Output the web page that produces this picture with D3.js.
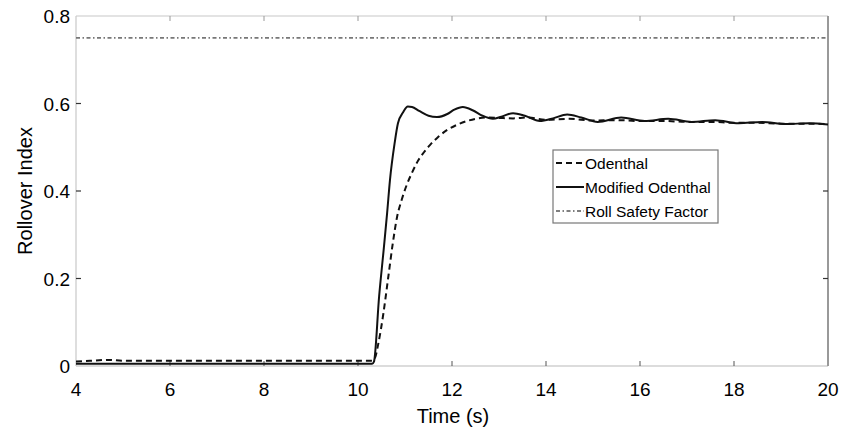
<!DOCTYPE html>
<html><head><meta charset="utf-8">
<script src="https://cdn.jsdelivr.net/npm/d3@7"></script>
<style>body{margin:0;background:#fff;} text{font-family:"Liberation Sans",Arial,sans-serif;}</style>
</head><body>
<svg id="c" width="842" height="432"></svg>
<script>
const xTicks = [4, 6, 8, 10, 12, 14, 16, 18, 20];
const yTicks = [0, 0.2, 0.4, 0.6, 0.8];
const yTickLabels = ["0", "0.2", "0.4", "0.6", "0.8"];

const odenthalT = [4, 4.3, 4.7, 5, 6, 7, 8, 9, 10, 10.3, 10.36, 10.43, 10.54, 10.64, 10.74, 10.83, 10.93, 11.03, 11.15, 11.26, 11.4, 11.53, 11.7, 11.89, 12.1, 12.32, 12.5, 12.74, 13.0, 13.3, 13.6, 14, 14.5, 15, 15.5, 16, 16.5, 17, 17.5, 18, 18.5, 19, 19.5, 20];
const odenthalV = [0.010, 0.012, 0.014, 0.012, 0.012, 0.012, 0.012, 0.012, 0.012, 0.012, 0.018, 0.05, 0.12, 0.20, 0.28, 0.34, 0.38, 0.412, 0.442, 0.466, 0.488, 0.505, 0.523, 0.539, 0.551, 0.560, 0.565, 0.568, 0.567, 0.566, 0.568, 0.563, 0.565, 0.561, 0.562, 0.560, 0.560, 0.558, 0.558, 0.556, 0.556, 0.554, 0.554, 0.553];

const modifiedT = [4, 10.3, 10.34, 10.45, 10.55, 10.62, 10.68, 10.78, 10.85, 10.96, 11.06, 11.15, 11.3, 11.5, 11.68, 11.9, 12.05, 12.23, 12.45, 12.65, 12.87, 13.05, 13.3, 13.55, 13.87, 14.15, 14.45, 14.75, 15.1, 15.6, 16.1, 16.6, 17.1, 17.6, 18.1, 18.6, 19.1, 19.6, 20];
const modifiedV = [0.005, 0.005, 0.01, 0.16, 0.27, 0.35, 0.425, 0.51, 0.555, 0.58, 0.593, 0.592, 0.583, 0.572, 0.569, 0.576, 0.586, 0.592, 0.584, 0.572, 0.565, 0.570, 0.578, 0.572, 0.560, 0.566, 0.575, 0.568, 0.558, 0.568, 0.560, 0.565, 0.558, 0.562, 0.555, 0.558, 0.553, 0.555, 0.552];

const safetyT = [4, 20];
const safetyV = [0.75, 0.75];

const legendLabels = ["Odenthal", "Modified Odenthal", "Roll Safety Factor"];

const svg = d3.select("#c");
const L = 76, R = 828, T = 16, B = 366;
const x = d3.scaleLinear().domain([4, 20]).range([L, R]);
const y = d3.scaleLinear().domain([0, 0.8]).range([B, T]);

// box
svg.append("line").attr("x1", L).attr("x2", R).attr("y1", T).attr("y2", T).attr("stroke", "#c8c8c8").attr("stroke-width", 1.2);
svg.append("line").attr("x1", L).attr("x2", R).attr("y1", B).attr("y2", B).attr("stroke", "#d0d0d0").attr("stroke-width", 1.5);
svg.append("line").attr("x1", L).attr("x2", L).attr("y1", T).attr("y2", B).attr("stroke", "#c8c8c8").attr("stroke-width", 1.2);
svg.append("line").attr("x1", R).attr("x2", R).attr("y1", T).attr("y2", B).attr("stroke", "#999").attr("stroke-width", 2);

// ticks (inward)
const tk = 5;
svg.selectAll(".xt").data(xTicks.slice(1, -1)).enter().append("line")
  .attr("x1", d => x(d)).attr("x2", d => x(d)).attr("y1", B).attr("y2", B - tk).attr("stroke", "#555").attr("stroke-width", 1);
svg.selectAll(".xtt").data(xTicks.slice(1, -1)).enter().append("line")
  .attr("x1", d => x(d)).attr("x2", d => x(d)).attr("y1", T).attr("y2", T + tk).attr("stroke", "#999").attr("stroke-width", 1);
svg.selectAll(".yt").data(yTicks.slice(1, -1)).enter().append("line")
  .attr("x1", L).attr("x2", L + tk).attr("y1", d => y(d)).attr("y2", d => y(d)).attr("stroke", "#333").attr("stroke-width", 1.2);
svg.selectAll(".ytr").data(yTicks.slice(1, -1)).enter().append("line")
  .attr("x1", R).attr("x2", R - tk).attr("y1", d => y(d)).attr("y2", d => y(d)).attr("stroke", "#333").attr("stroke-width", 1.2);

// tick labels
svg.selectAll(".xl").data(xTicks).enter().append("text")
  .attr("x", d => x(d)).attr("y", 396).attr("text-anchor", "middle").attr("font-size", 19).attr("fill", "#000").text(d => d);
svg.selectAll(".yl").data(yTicks).enter().append("text")
  .attr("x", 70).attr("y", d => y(d) + 7).attr("text-anchor", "end").attr("font-size", 19).attr("fill", "#000").text((d, i) => yTickLabels[i]);

// axis labels
svg.append("text").attr("x", 453).attr("y", 423).attr("text-anchor", "middle").attr("font-size", 20).attr("fill", "#000").text("Time (s)");
svg.append("text").attr("transform", "translate(32,191) rotate(-90)").attr("text-anchor", "middle").attr("font-size", 20).attr("fill", "#000").text("Rollover Index");

// lines
const line = d3.line().x(d => x(d[0])).y(d => y(d[1])).curve(d3.curveMonotoneX);
const safety = d3.zip(safetyT, safetyV);
const od = d3.zip(odenthalT, odenthalV);
const mod = d3.zip(modifiedT, modifiedV);

svg.append("path").attr("d", line(safety)).attr("fill", "none").attr("stroke", "#777").attr("stroke-width", 1.8).attr("stroke-dasharray", "4,2.5,1.5,2.5");
svg.append("path").attr("d", line(od)).attr("fill", "none").attr("stroke", "#111").attr("stroke-width", 2).attr("stroke-dasharray", "6,4");
svg.append("path").attr("d", line(mod)).attr("fill", "none").attr("stroke", "#111").attr("stroke-width", 2);

// legend
const lg = svg.append("g");
lg.append("rect").attr("x", 553).attr("y", 150).attr("width", 165).attr("height", 73).attr("fill", "#fff").attr("stroke", "#777").attr("stroke-width", 1.2);
const styles = [{dash: "6,4", c: "#111", w: 2}, {dash: null, c: "#111", w: 2}, {dash: "4,2.5,1.5,2.5", c: "#555", w: 1.3}];
legendLabels.forEach((lab, i) => {
  const yy = 163 + i * 24;
  const ln = lg.append("line").attr("x1", 556).attr("x2", 584).attr("y1", yy).attr("y2", yy)
    .attr("stroke", styles[i].c).attr("stroke-width", styles[i].w);
  if (styles[i].dash) ln.attr("stroke-dasharray", styles[i].dash);
  lg.append("text").attr("x", 585).attr("y", yy + 6).attr("font-size", 15.5).attr("fill", "#000").text(lab);
});
</script>
</body></html>
